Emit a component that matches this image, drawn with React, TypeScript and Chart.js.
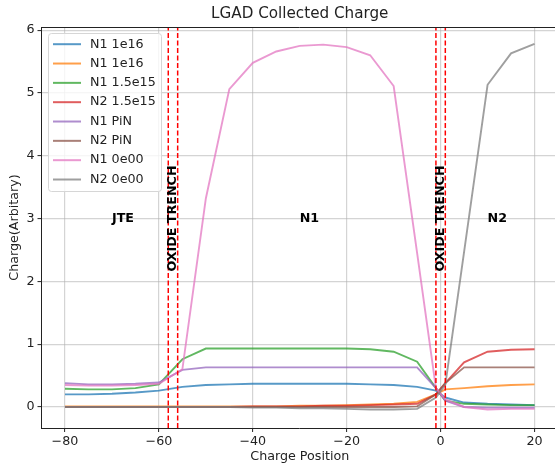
import React, { useEffect, useRef } from "react";
import { Chart, registerables } from "chart.js";

Chart.register(...registerables);

// ---- data ----
const positions = [-80, -75, -70, -65, -60, -55, -50, -45, -40, -35, -30, -25, -20, -15, -10, -5, -1, 1, 5, 10, 15, 20];

const seriesLabels = ["N1 1e16", "N1 1e16", "N1 1.5e15", "N2 1.5e15", "N1 PiN", "N2 PiN", "N1 0e00", "N2 0e00"];
const seriesColors = ["#1f77b4", "#ff7f0e", "#2ca02c", "#d62728", "#9467bd", "#8c564b", "#e377c2", "#7f7f7f"];

const n1_1e16_a = [0.20, 0.20, 0.21, 0.23, 0.26, 0.32, 0.35, 0.36, 0.37, 0.37, 0.37, 0.37, 0.37, 0.36, 0.35, 0.32, 0.26, 0.15, 0.07, 0.05, 0.04, 0.03];
const n1_1e16_b = [0.01, 0.01, 0.01, 0.01, 0.01, 0.01, 0.01, 0.01, 0.01, 0.01, 0.02, 0.02, 0.03, 0.04, 0.05, 0.08, 0.20, 0.28, 0.30, 0.33, 0.35, 0.36];
const n1_15e15 = [0.29, 0.28, 0.28, 0.30, 0.36, 0.76, 0.93, 0.93, 0.93, 0.93, 0.93, 0.93, 0.93, 0.92, 0.88, 0.72, 0.30, 0.10, 0.05, 0.04, 0.03, 0.03];
const n2_15e15 = [0.00, 0.00, 0.00, 0.00, 0.00, 0.00, 0.00, 0.00, 0.01, 0.01, 0.01, 0.02, 0.02, 0.03, 0.04, 0.05, 0.20, 0.38, 0.71, 0.88, 0.91, 0.92];
const n1_pin = [0.38, 0.36, 0.36, 0.37, 0.39, 0.59, 0.63, 0.63, 0.63, 0.63, 0.63, 0.63, 0.63, 0.63, 0.63, 0.63, 0.30, 0.10, 0.00, -0.01, -0.01, -0.01];
const n2_pin = [0.00, 0.00, 0.00, 0.00, 0.00, 0.00, 0.00, 0.00, 0.00, 0.00, 0.00, 0.00, 0.00, 0.00, 0.00, 0.01, 0.20, 0.38, 0.63, 0.63, 0.63, 0.63];
const n1_0e00 = [0.35, 0.34, 0.34, 0.35, 0.37, 0.60, 3.32, 5.06, 5.48, 5.66, 5.75, 5.77, 5.73, 5.60, 5.11, 2.45, 0.30, 0.12, 0.00, -0.04, -0.03, -0.03];
const n2_0e00 = [0.00, 0.00, 0.00, 0.00, 0.00, 0.00, 0.00, 0.00, -0.01, -0.01, -0.02, -0.02, -0.03, -0.04, -0.04, -0.03, 0.15, 0.35, 2.47, 5.13, 5.63, 5.78];

const seriesValues = [n1_1e16_a, n1_1e16_b, n1_15e15, n2_15e15, n1_pin, n2_pin, n1_0e00, n2_0e00];

const xTicks = [-80, -60, -40, -20, 0, 20];
const yTicks = [0, 1, 2, 3, 4, 5, 6];
const trenchX = [-58, -56, -1, 1];
const regionLabels = ["JTE", "N1", "N2"];
const regionX = [-70, -30, 10];
const regionY = 3;
const trenchLabelX = [-57, 0];
const trenchLabelY = 3;
const trenchLabel = "OXIDE TRENCH";

const X_MIN = -85;
const X_MAX = 25;
const Y_MIN = -0.335;
const Y_MAX = 6.05;

const FONT = '"DejaVu Sans", sans-serif';
const TXT = "#222222";

function withAlpha(hex: string, a: number) {
  const r = parseInt(hex.slice(1, 3), 16);
  const g = parseInt(hex.slice(3, 5), 16);
  const b = parseInt(hex.slice(5, 7), 16);
  return `rgba(${r},${g},${b},${a})`;
}

const overlayPlugin = {
  id: "overlay",
  afterDatasetsDraw(chart: any) {
    const { ctx, chartArea } = chart;
    const xs = chart.scales.x;
    const ys = chart.scales.y;
    ctx.save();
    // top spine
    ctx.strokeStyle = TXT;
    ctx.lineWidth = 1;
    ctx.beginPath();
    ctx.moveTo(chartArea.left, chartArea.top + 0.5);
    ctx.lineTo(chartArea.right, chartArea.top + 0.5);
    ctx.stroke();

    // region labels
    ctx.fillStyle = "#000";
    ctx.font = `bold 12.7px ${FONT}`;
    ctx.textAlign = "left";
    ctx.textBaseline = "middle";
    regionLabels.forEach((t, i) => {
      ctx.fillText(t, xs.getPixelForValue(regionX[i]), ys.getPixelForValue(regionY));
    });
    // trench labels
    trenchLabelX.forEach((xv) => {
      ctx.save();
      ctx.translate(xs.getPixelForValue(xv), ys.getPixelForValue(trenchLabelY));
      ctx.rotate(-Math.PI / 2);
      ctx.textAlign = "center";
      ctx.textBaseline = "middle";
      ctx.fillText(trenchLabel, 0, 0);
      ctx.restore();
    });

    // legend
    const lx = chartArea.left + 7;
    const ly = chartArea.top + 6.5;
    const lw = 113;
    const lh = 158;
    ctx.beginPath();
    if (ctx.roundRect) ctx.roundRect(lx, ly, lw, lh, 3);
    else ctx.rect(lx, ly, lw, lh);
    ctx.fillStyle = "rgba(255,255,255,0.8)";
    ctx.fill();
    ctx.strokeStyle = "#d6d6d6";
    ctx.lineWidth = 1;
    ctx.stroke();
    ctx.font = `12.7px ${FONT}`;
    ctx.textAlign = "left";
    ctx.textBaseline = "middle";
    seriesLabels.forEach((lab, i) => {
      const yy = ly + 10.7 + i * 19.33;
      ctx.strokeStyle = withAlpha(seriesColors[i], 0.75);
      ctx.lineWidth = 2;
      ctx.beginPath();
      ctx.moveTo(lx + 4.5, yy);
      ctx.lineTo(lx + 32.5, yy);
      ctx.stroke();
      ctx.fillStyle = TXT;
      ctx.fillText(lab, lx + 41.5, yy);
    });
    ctx.restore();
  },
};

export default function App() {
  const ref = useRef<HTMLCanvasElement | null>(null);

  useEffect(() => {
    if (!ref.current) return;
    const datasets: any[] = seriesValues.map((vals, i) => ({
      label: seriesLabels[i],
      data: positions.map((x, j) => ({ x, y: vals[j] })),
      borderColor: withAlpha(seriesColors[i], 0.75),
      backgroundColor: withAlpha(seriesColors[i], 0.75),
      borderWidth: 1.9,
      pointRadius: 0,
      tension: 0,
      fill: false,
      order: -i,
    }));
    trenchX.forEach((t, k) => {
      datasets.push({
        label: "trench" + k,
        data: [
          { x: t, y: Y_MIN },
          { x: t, y: Y_MAX },
        ],
        borderColor: "#ff0000",
        borderWidth: 1.5,
        borderDash: [5, 2.5],
        pointRadius: 0,
        fill: false,
        order: -100 - k,
      });
    });

    const chart = new Chart(ref.current, {
      type: "line",
      data: { datasets },
      options: {
        animation: false,
        responsive: false,
        events: [],
        layout: { padding: { top: 0, left: 0, right: 17, bottom: 0 } },
        plugins: {
          legend: { display: false },
          tooltip: { enabled: false },
          title: {
            display: true,
            text: "LGAD Collected Charge",
            fullSize: false,
            color: TXT,
            font: { family: FONT, size: 15.2, weight: "normal" },
            padding: { top: 5, bottom: 3.76 },
          },
        },
        scales: {
          x: {
            type: "linear",
            min: X_MIN,
            max: X_MAX,
            afterBuildTicks: (s: any) => {
              s.ticks = xTicks.map((v) => ({ value: v }));
            },
            afterFit: (s: any) => {
              s.height = 36;
            },
            ticks: {
              color: TXT,
              font: { family: FONT, size: 12.7 },
              padding: 2,
              maxRotation: 0,
              autoSkip: false,
              callback: (v: any) => String(v).replace("-", "\u2212"),
            },
            grid: {
              color: "rgba(176,176,176,0.55)",
              lineWidth: 1.2,
              tickLength: 4,
              tickColor: TXT,
              tickWidth: 1,
            },
            border: { display: true, color: TXT, width: 1 },
            title: {
              display: true,
              text: "Charge Position",
              color: TXT,
              font: { family: FONT, size: 12.7 },
              padding: { top: 0, bottom: 0 },
            },
          },
          y: {
            type: "linear",
            min: Y_MIN,
            max: Y_MAX,
            afterBuildTicks: (s: any) => {
              s.ticks = yTicks.map((v) => ({ value: v }));
            },
            afterFit: (s: any) => {
              s.width = 41.5;
            },
            ticks: {
              color: TXT,
              font: { family: FONT, size: 12.7 },
              padding: 3,
              autoSkip: false,
              callback: (v: any) => String(v),
            },
            grid: {
              color: "rgba(176,176,176,0.55)",
              lineWidth: 1.2,
              tickLength: 4,
              tickColor: TXT,
              tickWidth: 1,
            },
            border: { display: true, color: TXT, width: 1 },
            title: {
              display: true,
              text: "Charge(Arbitary)",
              color: TXT,
              font: { family: FONT, size: 12.7 },
              padding: { top: 7.4, bottom: 0 },
            },
          },
        },
      },
      plugins: [overlayPlugin],
    });
    return () => chart.destroy();
  }, []);

  return (
    <div
      style={{
        position: "fixed",
        left: 0,
        top: 0,
        width: 555,
        height: 464,
        overflow: "hidden",
        background: "#ffffff",
      }}
    >
      <canvas ref={ref} width={575} height={464} style={{ width: 575, height: 464, display: "block" }} />
    </div>
  );
}
